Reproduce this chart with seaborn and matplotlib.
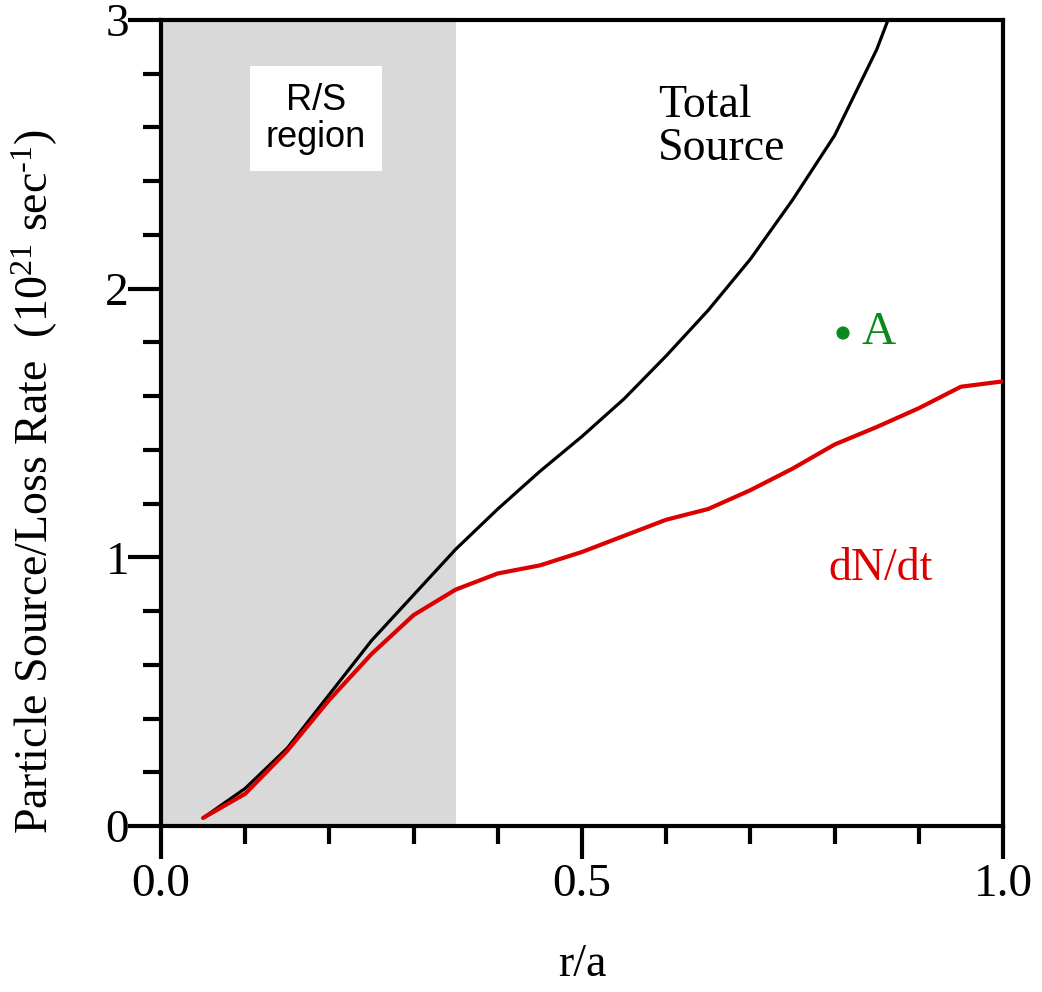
import matplotlib
matplotlib.use("Agg")
import matplotlib.pyplot as plt
import seaborn as sns
import pandas as pd
from matplotlib.ticker import MultipleLocator

# ---- data ----
r_total = [0.05, 0.10, 0.15, 0.20, 0.25, 0.30, 0.35, 0.40, 0.45, 0.50,
           0.55, 0.60, 0.65, 0.70, 0.75, 0.80, 0.85, 0.90]
total_source = [0.03, 0.14, 0.29, 0.49, 0.69, 0.86, 1.03, 1.18, 1.32, 1.45,
                1.59, 1.75, 1.92, 2.11, 2.33, 2.57, 2.89, 3.30]
r_dndt = [0.05, 0.10, 0.15, 0.20, 0.25, 0.30, 0.35, 0.40, 0.45, 0.50,
          0.55, 0.60, 0.65, 0.70, 0.75, 0.80, 0.85, 0.90, 0.95, 1.00]
dndt = [0.03, 0.12, 0.28, 0.47, 0.64, 0.785, 0.88, 0.94, 0.97, 1.02,
        1.08, 1.14, 1.18, 1.25, 1.33, 1.42, 1.485, 1.555, 1.635, 1.655]
point_A = (0.81, 1.835)
rs_region = (0.0, 0.35)
x_ticks = [0.0, 0.5, 1.0]
x_ticklabels = ["0.0", "0.5", "1.0"]

df_total = pd.DataFrame({"r": r_total, "v": total_source})
df_dndt = pd.DataFrame({"r": r_dndt, "v": dndt})
df_A = pd.DataFrame({"r": [point_A[0]], "v": [point_A[1]]})

sns.set_style("ticks")
plt.rcParams["font.family"] = ["Liberation Serif", "DejaVu Serif"]
plt.rcParams["mathtext.fontset"] = "custom"
plt.rcParams["mathtext.rm"] = "Liberation Serif"
plt.rcParams["mathtext.it"] = "Liberation Serif:italic"
for k in ["text.color", "axes.labelcolor", "xtick.color", "ytick.color",
          "xtick.labelcolor", "ytick.labelcolor", "axes.edgecolor"]:
    plt.rcParams[k] = "black"

fig = plt.figure(figsize=(10.42, 9.92), dpi=100)
ax = fig.add_axes([161 / 1042, 1 - 826 / 992, 842 / 1042, 806 / 992])

ax.axvspan(rs_region[0], rs_region[1], color="#d9d9d9", lw=0, zorder=0)

sns.lineplot(data=df_total, x="r", y="v", ax=ax, color="black", lw=2.3,
             zorder=3)
sns.lineplot(data=df_dndt, x="r", y="v", ax=ax, color="#dd0000", lw=3.0,
             zorder=4)
sns.scatterplot(data=df_A, x="r", y="v", ax=ax, color="#0a8a1e", s=90,
                edgecolor="none", zorder=5)

ax.set_xlim(0, 1.0)
ax.set_ylim(0, 3)
ax.set_xticks(x_ticks)
ax.set_xticklabels(x_ticklabels)
ax.xaxis.set_minor_locator(MultipleLocator(0.1))
ax.yaxis.set_major_locator(MultipleLocator(1))
ax.yaxis.set_minor_locator(MultipleLocator(0.2))

for s in ax.spines.values():
    s.set_linewidth(3)
    s.set_color("black")

ax.tick_params(axis="both", which="both", direction="out", width=3,
               color="black", labelcolor="black", top=False, right=False)
ax.tick_params(axis="both", which="major", length=24, labelsize=34)
ax.tick_params(axis="both", which="minor", length=13)
ax.tick_params(axis="y", which="major", pad=-1)
ax.tick_params(axis="x", which="major", pad=3)

ax.set_xlabel("r/a", fontsize=33, color="black")
ax.xaxis.set_label_coords(0.5, -0.146)
ax.set_ylabel(r"Particle Source/Loss Rate  (10$^{21}$ sec$^{\text{-1}}$)",
              fontsize=33, color="black")
ax.yaxis.set_label_coords(-0.12, 0.427)

ax.text(0.184, 2.632, "R/S\nregion", family=["Liberation Sans", "DejaVu Sans"],
        fontsize=26, ha="center", va="center", multialignment="center",
        linespacing=1.1, zorder=6, color="black",
        bbox=dict(boxstyle="square,pad=0.45", fc="white", ec="none"))
ax.text(0.590, 2.600, "Total\nSource", fontsize=33, ha="left", va="center",
        linespacing=1.0, zorder=6, color="black")
ax.text(0.855, 0.957, "dN/dt", fontsize=33, color="#dd0000", ha="center",
        va="center", zorder=6)
ax.text(0.8325, point_A[1], "A", fontsize=34, color="#0a8a1e", ha="left",
        va="center", zorder=6)

fig.savefig("out.png", dpi=100)
